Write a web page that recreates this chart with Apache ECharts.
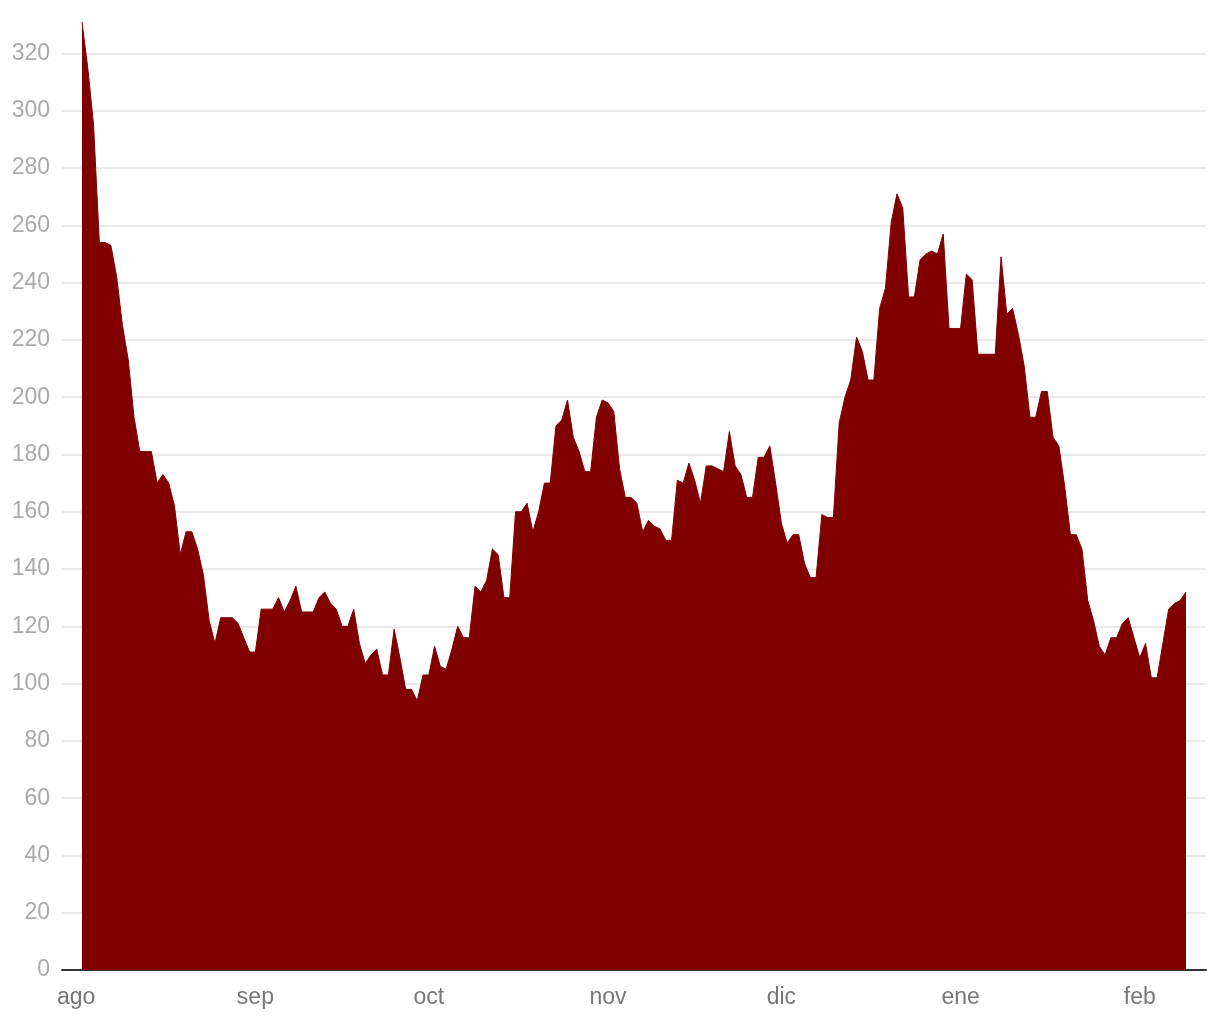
<!DOCTYPE html>
<html><head><meta charset="utf-8">
<script src="https://cdn.jsdelivr.net/npm/echarts@6/dist/echarts.min.js"></script>
<style>html,body{margin:0;padding:0;background:#fff}#chart{width:1220px;height:1020px}</style>
</head><body><div id="chart"></div>
<script>
// ---- data ----
const startDate = '2020-08-02';   // first daily value
const values = [
  331,315,295,254,254,253,242,225,213,193,
  181,181,181,170,173,170,162,145,153,153,
  147,138,122,114,123,123,123,121,116,111,
  111,126,126,126,130,125,129,134,125,125,
  125,130,132,128,126,120,120,126,114,107,
  110,112,103,103,119,109,98,98,94,103,
  103,113,106,105,112,120,116,116,134,132,
  136,147,145,130,130,160,160,163,153,160,
  170,170,190,192,199,186,181,174,174,193,
  199,198,195,175,165,165,163,153,157,155,
  154,150,150,171,170,177,171,163,176,176,
  175,174,188,176,173,165,165,179,179,183,
  170,156,149,152,152,142,137,137,159,158,
  158,191,200,206,221,216,206,206,231,238,
  261,271,266,235,235,248,250,251,250,257,
  224,224,224,243,241,215,215,215,215,249,
  229,231,222,211,193,193,202,202,186,183,
  169,152,152,147,129,122,113,110,116,116,
  121,123,116,109,114,102,102,114,126,128,
  129,132
];
const monthStarts = ['2020-08-01','2020-09-01','2020-10-01','2020-11-01','2020-12-01','2021-01-01','2021-02-01'];
const monthLabels = ['ago','sep','oct','nov','dic','ene','feb'];
const yTicks = [0,20,40,60,80,100,120,140,160,180,200,220,240,260,280,300,320];

// ---- build: x = days since first month start ----
const DAY = 86400000;
const base = Date.parse(monthStarts[0] + 'T00:00:00Z');
const dayOf = d => Math.round((Date.parse(d + 'T00:00:00Z') - base) / DAY);
const firstDay = dayOf(startDate);
const seriesData = values.map((v, i) => [firstDay + i, v]);
const lastDay = firstDay + values.length - 1;
const monthDays = monthStarts.map(dayOf);
const padDays = 3.46;

const chart = echarts.init(document.getElementById('chart'), null, {renderer: 'canvas'});
chart.setOption({
  animation: false,
  backgroundColor: '#ffffff',
  grid: {left: 62, right: 14, top: 22, bottom: 50},
  xAxis: {
    type: 'value',
    min: firstDay - padDays,
    max: lastDay + padDays,
    axisLine: {show: true, onZero: false, lineStyle: {color: '#333333', width: 2}},
    axisTick: {show: false, customValues: monthDays},
    splitLine: {show: false},
    axisLabel: {
      customValues: monthDays,
      formatter: function (val) {
        let best = 0, bd = Infinity;
        monthDays.forEach((t, i) => { const d = Math.abs(t - val); if (d < bd) { bd = d; best = i; } });
        return monthLabels[best];
      },
      color: '#777777',
      fontSize: 23,
      fontFamily: 'Liberation Sans, Arial, sans-serif',
      margin: 16
    }
  },
  yAxis: {
    type: 'value',
    min: 0,
    max: 331,
    interval: 20,
    axisLine: {show: false},
    axisTick: {show: false, customValues: yTicks},
    splitLine: {show: true, lineStyle: {color: '#e3e3e3', width: 1.5}},
    axisLabel: {
      customValues: yTicks,
      color: '#aaaaaa',
      fontSize: 23,
      fontFamily: 'Liberation Sans, Arial, sans-serif',
      margin: 12,
      padding: [4, 0, 0, 0]
    }
  },
  series: [{
    type: 'line',
    data: seriesData,
    symbol: 'none',
    lineStyle: {color: '#800000', width: 1},
    areaStyle: {color: '#800000', opacity: 1},
    itemStyle: {color: '#800000'}
  }]
});
</script>
</body></html>
